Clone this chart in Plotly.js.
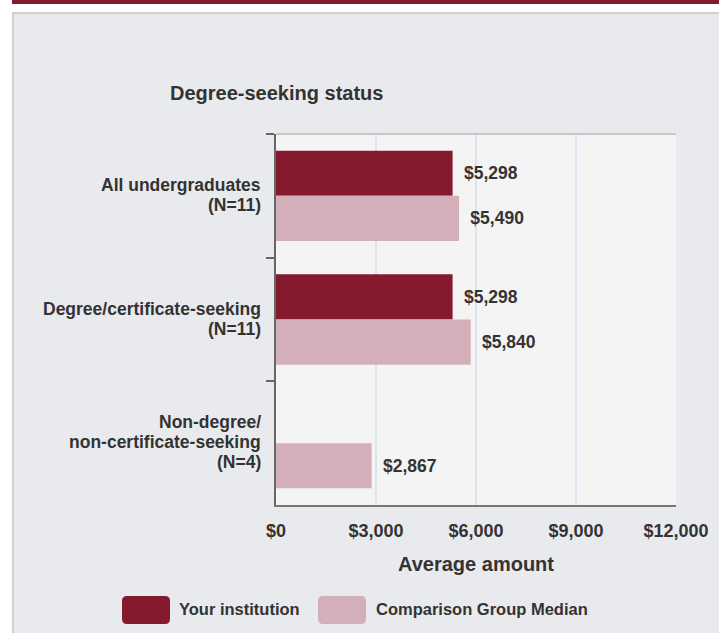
<!DOCTYPE html>
<html>
<head>
<meta charset="utf-8">
<script src="https://cdn.plot.ly/plotly-3.0.1.min.js"></script>
<style>html,body{margin:0;padding:0;background:#fff;}#chart{width:719px;height:633px;}</style>
</head>
<body>
<div id="chart"></div>
<script>
const categories = [
  "All undergraduates<br>(N=11)",
  "Degree/certificate-seeking<br>(N=11)",
  "Non-degree/<br>non-certificate-seeking<br>(N=4)"
];
const yourInstitution = [5298, 5298, null];
const comparisonMedian = [5490, 5840, 2867];
const seriesNames = ["Your institution", "Comparison Group Median"];
const xTickVals = [0, 3000, 6000, 9000, 12000];
const xTickText = ["$0", "$3,000", "$6,000", "$9,000", "$12,000"];

const W = 719, H = 633;
const M = {l: 276, r: 43, t: 134, b: 128};
const PW = W - M.l - M.r, PH = H - M.t - M.b;
const px = x => (x - M.l) / PW;
const py = y => (H - M.b - y) / PH;

const RED = "#851a2e", PINK = "#d4aeb8", TXT = "#333333";
const FONT = "Liberation Sans, Arial, sans-serif";

function rrect(x0, y0, x1, y1, r) {
  const P = (x, y) => px(x) + "," + py(y);
  return "M" + P(x0 + r, y0) + " L" + P(x1 - r, y0) + " Q" + P(x1, y0) + " " + P(x1, y0 + r) +
    " L" + P(x1, y1 - r) + " Q" + P(x1, y1) + " " + P(x1 - r, y1) +
    " L" + P(x0 + r, y1) + " Q" + P(x0, y1) + " " + P(x0, y1 - r) +
    " L" + P(x0, y0 + r) + " Q" + P(x0, y0) + " " + P(x0 + r, y0) + " Z";
}

const valueFont = {family: FONT, size: 17.5, color: TXT, weight: "bold"};
const traces = [
  {
    type: "bar", orientation: "h", name: seriesNames[0],
    y: categories, x: yourInstitution,
    marker: {color: RED},
    texttemplate: "\u00a0\u2009$%{x:,.0f}", textposition: "outside",
    textfont: valueFont, cliponaxis: false, hoverinfo: "skip"
  },
  {
    type: "bar", orientation: "h", name: seriesNames[1],
    y: categories, x: comparisonMedian,
    marker: {color: PINK},
    texttemplate: "\u00a0\u2009$%{x:,.0f}", textposition: "outside",
    textfont: valueFont, cliponaxis: false, hoverinfo: "skip"
  }
];

const shapes = [
  {type: "rect", xref: "paper", yref: "paper", x0: px(0), x1: px(W), y0: py(0), y1: py(12), fillcolor: "#ffffff", line: {width: 0}, layer: "below"},
  {type: "rect", xref: "paper", yref: "paper", x0: px(0), x1: px(12), y0: py(0), y1: py(H), fillcolor: "#ffffff", line: {width: 0}, layer: "below"},
  {type: "rect", xref: "paper", yref: "paper", x0: px(12), x1: px(W), y0: py(0), y1: py(4), fillcolor: RED, line: {width: 0}},
  {type: "line", xref: "paper", yref: "paper", x0: px(13), x1: px(W), y0: py(13), y1: py(13), line: {color: "#d0d0d0", width: 2}},
  {type: "line", xref: "paper", yref: "paper", x0: px(13), x1: px(13), y0: py(12), y1: py(H), line: {color: "#d0d0d0", width: 2}},
  {type: "line", xref: "paper", yref: "paper", x0: 0, x1: 1, y0: 1, y1: 1, line: {color: "#c8c8c8", width: 2}},
  {type: "path", xref: "paper", yref: "paper", path: rrect(122, 596, 170, 624, 5), fillcolor: RED, line: {width: 0}},
  {type: "path", xref: "paper", yref: "paper", path: rrect(318, 596, 366, 624, 5), fillcolor: PINK, line: {width: 0}}
];

const annotations = [
  {xref: "paper", yref: "paper", x: px(276), y: py(93), text: "<b>Degree-seeking status</b>", showarrow: false,
   xanchor: "center", yanchor: "middle", font: {family: FONT, size: 20, color: TXT}},
  {xref: "paper", yref: "paper", x: px(177), y: py(609), text: "<b>" + seriesNames[0] + "</b>", showarrow: false,
   xanchor: "left", yanchor: "middle", font: {family: FONT, size: 16.5, color: TXT}},
  {xref: "paper", yref: "paper", x: px(374), y: py(609), text: "<b>" + seriesNames[1] + "</b>", showarrow: false,
   xanchor: "left", yanchor: "middle", font: {family: FONT, size: 16.5, color: TXT}}
];

// category labels: right-aligned, tight line spacing
const LINE = 20;
categories.forEach(cat => {
  const lines = cat.split("<br>");
  lines.forEach((ln, i) => {
    annotations.push({
      xref: "paper", yref: "y", x: px(262), y: cat,
      text: "<b>" + ln + "</b>", showarrow: false,
      xanchor: "right", yanchor: "middle", borderpad: 0,
      yshift: ((lines.length - 1) / 2 - i) * LINE + 1,
      font: {family: FONT, size: 17.5, color: TXT}
    });
  });
});

const layout = {
  width: W, height: H,
  margin: M,
  paper_bgcolor: "#e9eaee",
  plot_bgcolor: "#f4f4f4",
  barmode: "group",
  bargap: 0.27,
  bargroupgap: 0,
  showlegend: false,
  font: {family: FONT, color: TXT},
  xaxis: {
    range: [0, 12000],
    tickvals: xTickVals, ticktext: xTickText,
    showgrid: true, gridcolor: "#dbe3ee", gridwidth: 2,
    zeroline: false,
    showline: true, linecolor: "#777777", linewidth: 2,
    ticks: "", ticklabelstandoff: 8,
    tickfont: {family: FONT, size: 18, color: TXT, weight: "bold"},
    title: {text: "<b>Average amount</b>", standoff: 17, font: {family: FONT, size: 20, color: TXT}},
    fixedrange: true
  },
  yaxis: {
    type: "category",
    autorange: "reversed",
    showgrid: false, zeroline: false,
    showline: true, linecolor: "#666666", linewidth: 2,
    ticks: "outside", tickson: "boundaries", ticklen: 8, tickcolor: "#666666", tickwidth: 2,
    showticklabels: false,
    fixedrange: true
  },
  shapes: shapes,
  annotations: annotations
};

Plotly.newPlot("chart", traces, layout, {displayModeBar: false, staticPlot: true});
</script>
</body>
</html>
